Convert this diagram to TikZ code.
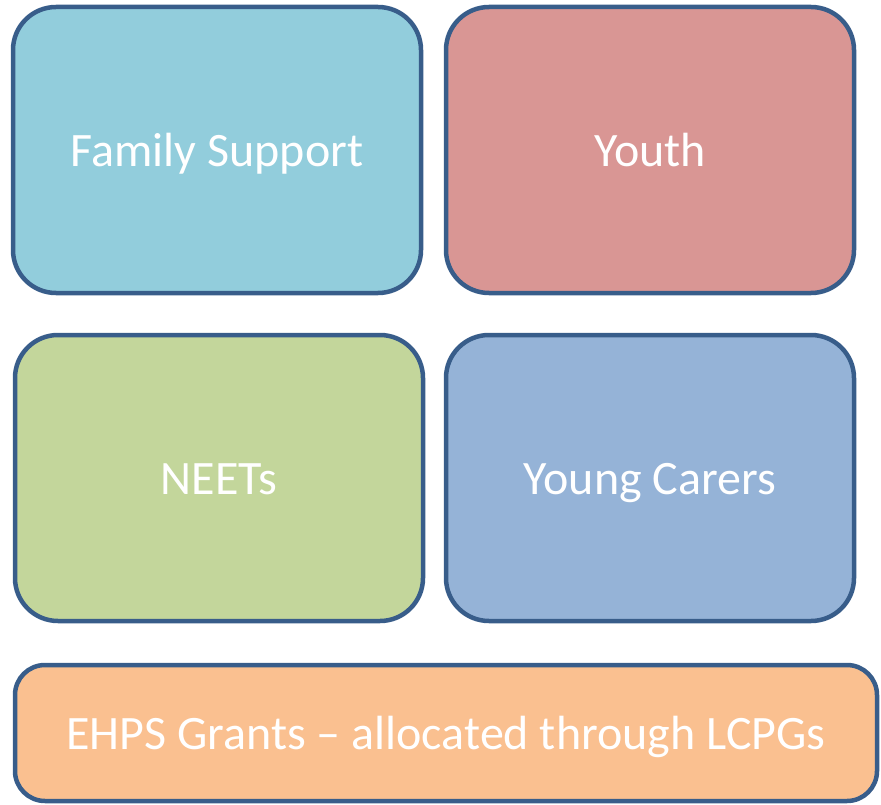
\documentclass[tikz,border=0pt]{standalone}
\usepackage{fontspec}
\setmainfont{Carlito}
\usepackage{tikz}
\usetikzlibrary{positioning}
\definecolor{edgeblue}{HTML}{385D8A}
\definecolor{famblue}{HTML}{92CDDC}
\definecolor{youthred}{HTML}{D99694}
\definecolor{neetgreen}{HTML}{C3D69B}
\definecolor{carerblue}{HTML}{95B3D7}
\definecolor{grantorange}{HTML}{FAC090}
\tikzstyle{area} = [rectangle, rounded corners=43pt, minimum width=408pt, minimum height=286pt, draw=edgeblue, line width=4.5pt, text=white, font=\fontsize{48}{58}\selectfont, text height=33pt, text depth=0pt, inner sep=0pt]
\tikzstyle{grant} = [area, rounded corners=30pt, minimum width=862pt, minimum height=136pt]

\begin{document}
\begin{tikzpicture}[x=1pt, y=-1pt]
\useasboundingbox (0,0) rectangle (881,805);

\node (fam) [area, fill=famblue] at (217,150) {Family Support};
\node (youth) [area, fill=youthred] at (650,150) {Youth};
\node (neet) [area, fill=neetgreen] at (219,478) {NEETs};
\node (carer) [area, fill=carerblue] at (650,478) {Young Carers};
\node (ehps) [grant, fill=grantorange] at (446,733) {EHPS Grants -- allocated through LCPGs};
\end{tikzpicture}
\end{document}
